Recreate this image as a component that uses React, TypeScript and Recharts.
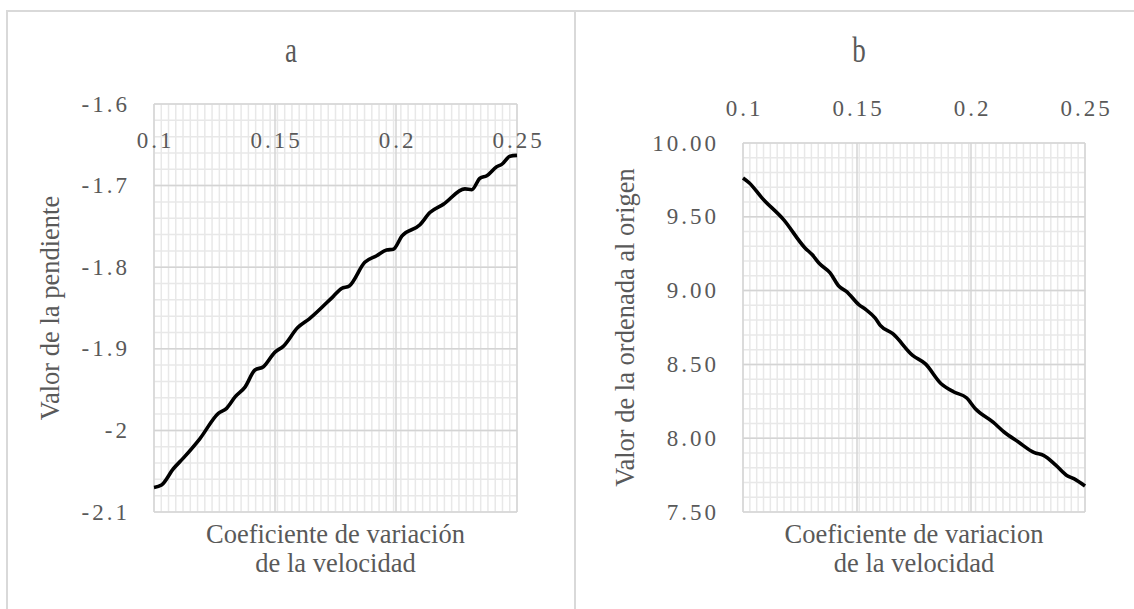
import React from 'react';
import { LineChart, Line, XAxis, YAxis, CartesianGrid, Label } from 'recharts';

// panel a: slope vs coefficient of variation
const cvA = [0.1, 0.1031, 0.108, 0.1121, 0.119, 0.1266, 0.13, 0.1335, 0.1376, 0.1417, 0.1452, 0.15, 0.1534, 0.1594, 0.1643, 0.174, 0.1775, 0.1807, 0.1871, 0.192, 0.1961, 0.1989, 0.2024, 0.2099, 0.214, 0.2195, 0.2285, 0.2313, 0.2347, 0.2375, 0.2416, 0.2437, 0.2471, 0.25];
const pendiente = [-2.07, -2.067, -2.047, -2.034, -2.01, -1.979, -1.973, -1.959, -1.947, -1.926, -1.922, -1.904, -1.897, -1.874, -1.863, -1.836, -1.826, -1.823, -1.794, -1.786, -1.779, -1.778, -1.762, -1.748, -1.733, -1.723, -1.704, -1.705, -1.691, -1.688, -1.677, -1.674, -1.664, -1.663];

// panel b: intercept vs coefficient of variation
const cvB = [0.1, 0.1028, 0.1083, 0.1178, 0.1272, 0.1303, 0.1335, 0.1382, 0.1421, 0.1453, 0.1508, 0.1539, 0.1579, 0.1602, 0.1657, 0.1744, 0.1799, 0.1869, 0.1925, 0.198, 0.2019, 0.2097, 0.2145, 0.2208, 0.2278, 0.2318, 0.2373, 0.242, 0.2451, 0.25];
const ordenada = [9.763, 9.729, 9.628, 9.481, 9.289, 9.244, 9.183, 9.12, 9.029, 8.995, 8.905, 8.871, 8.815, 8.764, 8.708, 8.561, 8.505, 8.369, 8.313, 8.274, 8.2, 8.109, 8.042, 7.974, 7.902, 7.884, 7.816, 7.748, 7.726, 7.676];

const xTicks = [0.1, 0.15, 0.2, 0.25];
const yTicksA = [-2.1, -2, -1.9, -1.8, -1.7, -1.6];
const yTicksB = [7.5, 8, 8.5, 9, 9.5, 10];

const steps = (from: number, to: number, step: number) =>
  Array.from({ length: Math.round((to - from) / step) + 1 }, (_, i) => +(from + i * step).toFixed(4));

const xMinor = steps(0.1, 0.25, 0.003);
const yMinorA = steps(-2.1, -1.6, 0.02);
const yMinorB = steps(7.5, 10, 0.1);

const FONT = "'Liberation Serif', Tinos, serif";
const GREY = '#595959';
const W = 566;
const H = 597;

type PanelProps = {
  xs: number[];
  ys: number[];
  yTicks: number[];
  yMinor: number[];
  yFmt: (v: number) => string;
  yTitle: string;
  xTitle: string[];
  plotLeft: number;
  plotTop: number;
  xLabelDy: number;
  yTitleX: number;
};

const txt = (size: number, spacing = 0) => ({ fontFamily: FONT, fontSize: size, letterSpacing: spacing, fill: GREY });

const Panel = (p: PanelProps) => {
  const data = p.xs.map((x, i) => ({ x, y: p.ys[i] }));
  const yDomain = [p.yTicks[0], p.yTicks[p.yTicks.length - 1]];

  const XTick = ({ x, y, payload }: any) => (
    <text x={x + 1.5} y={y + p.xLabelDy} textAnchor="middle" dominantBaseline="central" style={txt(23, 3)}>
      {String(payload.value)}
    </text>
  );
  const YTick = ({ x, y, payload }: any) => (
    <text x={x - 24} y={y} textAnchor="end" dominantBaseline="central" style={txt(23, 3)}>
      {p.yFmt(payload.value)}
    </text>
  );

  return (
    <LineChart width={W} height={H} data={data}
      margin={{ top: p.plotTop - 1, right: 57, left: 0, bottom: 0 }}>
      <XAxis xAxisId="minor" dataKey="x" type="number" domain={[0.1, 0.25]} allowDataOverflow
        ticks={xMinor} interval={0} hide />
      <YAxis yAxisId="minor" dataKey="y" type="number" domain={yDomain} allowDataOverflow
        ticks={p.yMinor} interval={0} hide />
      <XAxis xAxisId="main" dataKey="x" type="number" domain={[0.1, 0.25]} ticks={xTicks}
        orientation="top" height={1} tickSize={0} tickMargin={0} axisLine={false} tickLine={false}
        tick={<XTick />} interval={0} />
      <XAxis xAxisId="title" dataKey="x" type="number" domain={[0.1, 0.25]} orientation="bottom"
        height={H - 500} tick={false} axisLine={false} tickLine={false}
        label={<Label content={({ viewBox }: any) => (
          <g>
            {p.xTitle.map((line, i) => (
              <text key={i} x={viewBox.x + viewBox.width / 2} y={viewBox.y - 8 + i * 29}
                textAnchor="middle" dominantBaseline="central" style={txt(26.5)}>
                {line}
              </text>
            ))}
          </g>
        )} />} />
      <YAxis yAxisId="main" dataKey="y" type="number" domain={yDomain} ticks={p.yTicks} width={p.plotLeft}
        tickSize={0} tickMargin={0} axisLine={false} tickLine={false} tick={<YTick />} interval={0}
        label={<Label content={({ viewBox }: any) => {
          const cx = viewBox.x + p.yTitleX;
          const cy = viewBox.y + viewBox.height / 2;
          return (
            <text x={cx} y={cy} transform={`rotate(-90 ${cx} ${cy})`} textAnchor="middle"
              dominantBaseline="central" style={txt(26.5)}>
              {p.yTitle}
            </text>
          );
        }} />} />
      <CartesianGrid xAxisId="minor" yAxisId="minor" stroke="#e8e8e8" strokeWidth={1.5} />
      <CartesianGrid xAxisId="main" yAxisId="main" stroke="#d4d4d4" strokeWidth={1.5} />
      <Line xAxisId="main" yAxisId="main" dataKey="y" type="monotone" stroke="#000"
        strokeWidth={3.6} dot={false} isAnimationActive={false} />
    </LineChart>
  );
};

const panelTitle = (t: string) => (
  <div style={{ position: 'absolute', top: 19, left: 0, width: '100%', textAlign: 'center',
    fontFamily: FONT, fontSize: 36, lineHeight: '38px', color: GREY, transform: 'scaleX(0.75)' }}>
    {t}
  </div>
);

export default function App() {
  return (
    <div style={{ position: 'fixed', left: 0, top: 0, width: 1134, height: 609, overflow: 'hidden', background: '#fff' }}>
      <div style={{ position: 'absolute', left: 6, top: 10, width: W, height: H,
        borderLeft: '2px solid #d9d9d9', borderTop: '2px solid #d9d9d9', borderRight: '2px solid #d9d9d9' }}>
        {panelTitle('a')}
        <Panel xs={cvA} ys={pendiente} yTicks={yTicksA} yMinor={yMinorA}
          yFmt={(v) => String(v)} yTitle="Valor de la pendiente"
          xTitle={['Coeficiente de variación', 'de la velocidad']}
          plotLeft={146} plotTop={92} xLabelDy={36} yTitleX={42} />
      </div>
      <div style={{ position: 'absolute', left: 576, top: 10, width: W, height: H,
        borderTop: '2px solid #d9d9d9', borderRight: '2px solid #d9d9d9' }}>
        {panelTitle('b')}
        <Panel xs={cvB} ys={ordenada} yTicks={yTicksB} yMinor={yMinorB}
          yFmt={(v) => v.toFixed(2)} yTitle="Valor de la ordenada al origen"
          xTitle={['Coeficiente de variacion', 'de la velocidad']}
          plotLeft={167} plotTop={131} xLabelDy={-35} yTitleX={49} />
      </div>
    </div>
  );
}
